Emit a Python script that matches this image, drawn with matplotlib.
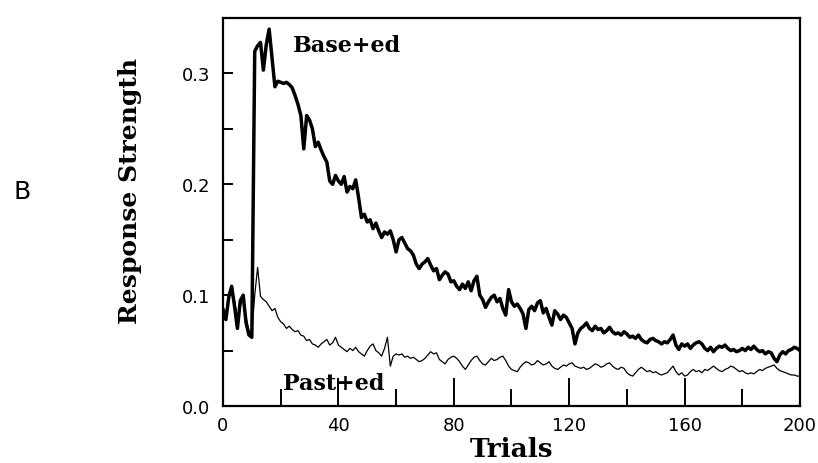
import numpy as np
import matplotlib.pyplot as plt
from matplotlib.ticker import MultipleLocator

# --- data (trial 0..200) ---
trials = np.arange(0, 201)

base_ed = [
    0.085, 0.078, 0.098, 0.108, 0.090, 0.070, 0.095, 0.100, 0.075, 0.064,
    0.062, 0.320, 0.325, 0.328, 0.303, 0.326, 0.340, 0.314, 0.288, 0.293,
    0.292, 0.291, 0.292, 0.290, 0.287, 0.280, 0.272, 0.262, 0.232, 0.262,
    0.258, 0.250, 0.234, 0.238, 0.231, 0.225, 0.220, 0.203, 0.200, 0.208,
    0.203, 0.200, 0.207, 0.193, 0.198, 0.196, 0.204, 0.188, 0.170, 0.173,
    0.166, 0.168, 0.160, 0.165, 0.158, 0.152, 0.157, 0.155, 0.158, 0.150,
    0.139, 0.150, 0.152, 0.147, 0.142, 0.140, 0.136, 0.128, 0.124, 0.128,
    0.130, 0.133, 0.127, 0.122, 0.124, 0.114, 0.118, 0.121, 0.119, 0.112,
    0.113, 0.108, 0.105, 0.110, 0.106, 0.112, 0.104, 0.113, 0.117, 0.100,
    0.096, 0.089, 0.094, 0.098, 0.100, 0.094, 0.097, 0.088, 0.082, 0.105,
    0.094, 0.090, 0.092, 0.088, 0.083, 0.070, 0.087, 0.090, 0.086, 0.093,
    0.095, 0.084, 0.088, 0.080, 0.073, 0.086, 0.083, 0.078, 0.082, 0.080,
    0.075, 0.070, 0.056, 0.066, 0.070, 0.072, 0.075, 0.070, 0.068, 0.072,
    0.069, 0.070, 0.066, 0.068, 0.071, 0.067, 0.065, 0.066, 0.064, 0.067,
    0.065, 0.062, 0.063, 0.061, 0.064, 0.060, 0.058, 0.057, 0.060, 0.061,
    0.059, 0.058, 0.056, 0.058, 0.057, 0.060, 0.064, 0.055, 0.051, 0.056,
    0.054, 0.056, 0.052, 0.055, 0.057, 0.058, 0.056, 0.052, 0.050, 0.053,
    0.049, 0.052, 0.054, 0.053, 0.055, 0.052, 0.050, 0.051, 0.049, 0.050,
    0.052, 0.050, 0.053, 0.051, 0.054, 0.051, 0.049, 0.050, 0.047, 0.049,
    0.048, 0.043, 0.040, 0.046, 0.049, 0.047, 0.050, 0.051, 0.053, 0.052,
    0.050,
]

past_ed = [
    0.090, 0.083, 0.102, 0.106, 0.095, 0.080, 0.090, 0.098, 0.080, 0.068,
    0.066, 0.100, 0.125, 0.099, 0.096, 0.094, 0.090, 0.086, 0.088, 0.080,
    0.076, 0.074, 0.070, 0.072, 0.069, 0.067, 0.068, 0.064, 0.063, 0.059,
    0.060, 0.056, 0.055, 0.053, 0.056, 0.058, 0.060, 0.055, 0.057, 0.062,
    0.055, 0.053, 0.051, 0.049, 0.052, 0.050, 0.053, 0.049, 0.047, 0.045,
    0.050, 0.054, 0.056, 0.050, 0.048, 0.045, 0.052, 0.062, 0.036, 0.045,
    0.047, 0.046, 0.047, 0.044, 0.045, 0.043, 0.044, 0.042, 0.040, 0.041,
    0.043, 0.046, 0.049, 0.047, 0.048, 0.042, 0.040, 0.038, 0.042, 0.044,
    0.045, 0.043, 0.040, 0.036, 0.033, 0.037, 0.041, 0.044, 0.045, 0.041,
    0.038, 0.037, 0.040, 0.043, 0.041, 0.042, 0.044, 0.045, 0.041, 0.036,
    0.033, 0.032, 0.031, 0.035, 0.038, 0.040, 0.039, 0.037, 0.038, 0.041,
    0.039, 0.037, 0.038, 0.040, 0.036, 0.034, 0.033, 0.035, 0.037, 0.036,
    0.038, 0.039, 0.036, 0.035, 0.034, 0.035, 0.033, 0.034, 0.036, 0.038,
    0.037, 0.035, 0.036, 0.038, 0.039, 0.036, 0.034, 0.033, 0.035, 0.034,
    0.030, 0.028, 0.027, 0.030, 0.033, 0.035, 0.033, 0.031, 0.032, 0.030,
    0.031, 0.029, 0.028, 0.029, 0.030, 0.033, 0.036, 0.031, 0.028, 0.030,
    0.027, 0.028, 0.031, 0.033, 0.031, 0.032, 0.030, 0.033, 0.032, 0.034,
    0.036, 0.034, 0.032, 0.031, 0.033, 0.034, 0.036, 0.035, 0.033, 0.031,
    0.032, 0.030, 0.029, 0.030, 0.029, 0.031, 0.033, 0.032, 0.034, 0.035,
    0.036, 0.037, 0.034, 0.032, 0.031, 0.030, 0.029, 0.028, 0.028, 0.027,
    0.027,
]

xticks = [0, 40, 80, 120, 160, 200]
yticks = [0.0, 0.1, 0.2, 0.3]

serif = "DejaVu Serif"

fig = plt.figure(figsize=(8.18, 4.64), dpi=100)
ax = fig.add_axes([0.2726, 0.1228, 0.978 - 0.2726, 0.959 - 0.1228])

ax.plot(trials, base_ed, color="black", lw=2.5)
ax.plot(trials, past_ed, color="black", lw=0.9)

ax.set_xlim(0, 200)
ax.set_ylim(0, 0.35)

ax.set_xticks(xticks)
ax.xaxis.set_minor_locator(MultipleLocator(20))
ax.set_yticks(yticks)
ax.set_yticklabels(["0.0", "0.1", "0.2", "0.3"])
ax.yaxis.set_minor_locator(MultipleLocator(0.05))

ax.tick_params(axis="x", which="major", direction="in", length=20, width=1.4,
               labelsize=13, pad=7)
ax.tick_params(axis="x", which="minor", direction="in", length=12, width=1.4)
ax.tick_params(axis="y", which="both", direction="in", length=7, width=1.4,
               labelsize=13, pad=9)
for s in ax.spines.values():
    s.set_linewidth(1.6)

ax.text(24.3, 0.326, "Base+ed", fontsize=16, fontweight="bold",
        family=serif, ha="left", va="center")
ax.text(20.8, 0.021, "Past+ed", fontsize=16, fontweight="bold",
        family=serif, ha="left", va="center")

fig.text(512 / 818, 1 - 450 / 464, "Trials", fontsize=19, fontweight="bold",
         family=serif, ha="center", va="center")
fig.text(130 / 818, 1 - 191 / 464, "Response Strength", fontsize=18,
         fontweight="bold", family=serif, rotation=90,
         ha="center", va="center")
fig.text(22 / 818, 1 - 192 / 464, "B", fontsize=18, ha="center", va="center")

fig.savefig("out.png", dpi=100)
